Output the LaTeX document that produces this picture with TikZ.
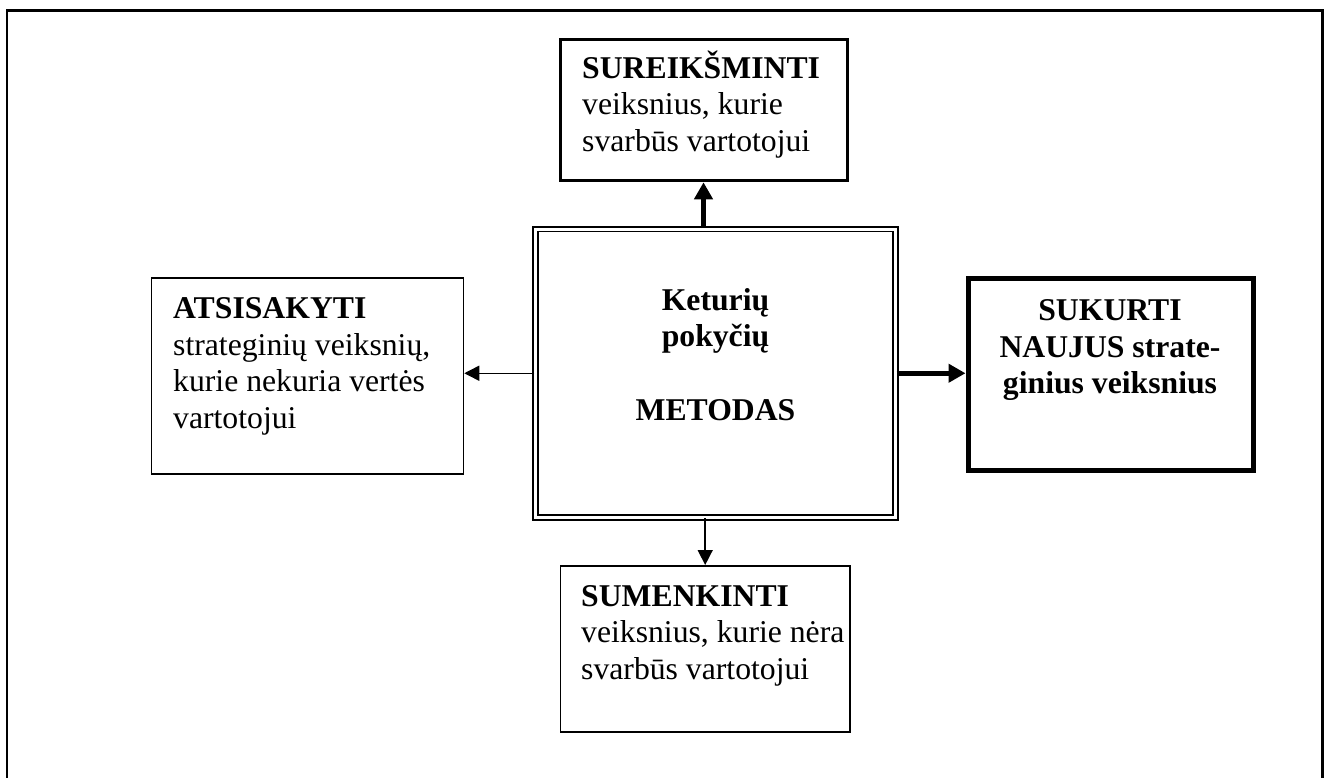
\documentclass[tikz,border=0pt]{standalone}
\usepackage{fontspec}
\setmainfont{Liberation Serif}
\usetikzlibrary{arrows.meta}
\begin{document}
\begin{tikzpicture}[x=1pt,y=-1pt,
  box/.style={draw, rectangle, inner sep=0pt, line width=1.5pt},
  txt/.style={inner sep=0pt, font=\fontsize{31.7}{36.7}\selectfont},
  thickarrow/.style={line width=5pt, -{Triangle[length=17pt,width=18pt]}},
  thinarrow/.style={line width=1.5pt, -{Triangle[length=15pt,width=15pt]}},
]
\useasboundingbox (0,0) rectangle (1324,778);
\draw[line width=2.5pt] (7,778) -- (7,10.3) -- (1322.7,10.3) -- (1322.7,778);

% boxes
\node[box, line width=3pt, minimum width=287pt, minimum height=141.6pt] (sur) at (703.5,110) {};
\node[box, double, line width=1.8pt, double distance=3pt, minimum width=360.5pt, minimum height=288.5pt] (mid) at (715.5,373.25) {};
\node[box, minimum width=311.8pt, minimum height=196.3pt] (left) at (307.6,375.9) {};
\node[box, line width=5pt, minimum width=285pt, minimum height=192pt] (right) at (1110.5,374) {};
\node[box, minimum width=289.7pt, minimum height=166.3pt] (low) at (705.2,648.9) {};

% texts
\node[txt, anchor=base west] (surT) at (582,78.3) {\begin{tabular}[t]{@{}l@{}}\textbf{SUREIKŠMINTI}\\ veiksnius, kurie\\ svarbūs vartotojui\end{tabular}};
\node[txt, anchor=base] (midT) at (715.5,310) {\begin{tabular}[t]{@{}c@{}}\textbf{Keturių}\\ \textbf{pokyčių}\\ \\ \textbf{METODAS}\end{tabular}};
\node[txt, anchor=base west] (leftT) at (173,318.3) {\begin{tabular}[t]{@{}l@{}}\textbf{ATSISAKYTI}\\ strateginių veiksnių,\\ kurie nekuria vertės\\ vartotojui\end{tabular}};
\node[txt, anchor=base] (rightT) at (1110,320.5) {\begin{tabular}[t]{@{}c@{}}\textbf{SUKURTI}\\ \textbf{NAUJUS strate-}\\ \textbf{ginius veiksnius}\end{tabular}};
\node[txt, anchor=base west] (lowT) at (581,606) {\begin{tabular}[t]{@{}l@{}}\textbf{SUMENKINTI}\\ veiksnius, kurie nėra\\ svarbūs vartotojui\end{tabular}};

% connectors
\draw[thickarrow] (mid.north -| sur.south) -- (sur.south);
\draw[thickarrow] (mid.east) -- (mid.east -| right.west);
\draw[thinarrow] (mid.west) -- (mid.west -| left.east);
\draw[thinarrow] (mid.south -| low.north) -- (low.north);
\end{tikzpicture}
\end{document}
